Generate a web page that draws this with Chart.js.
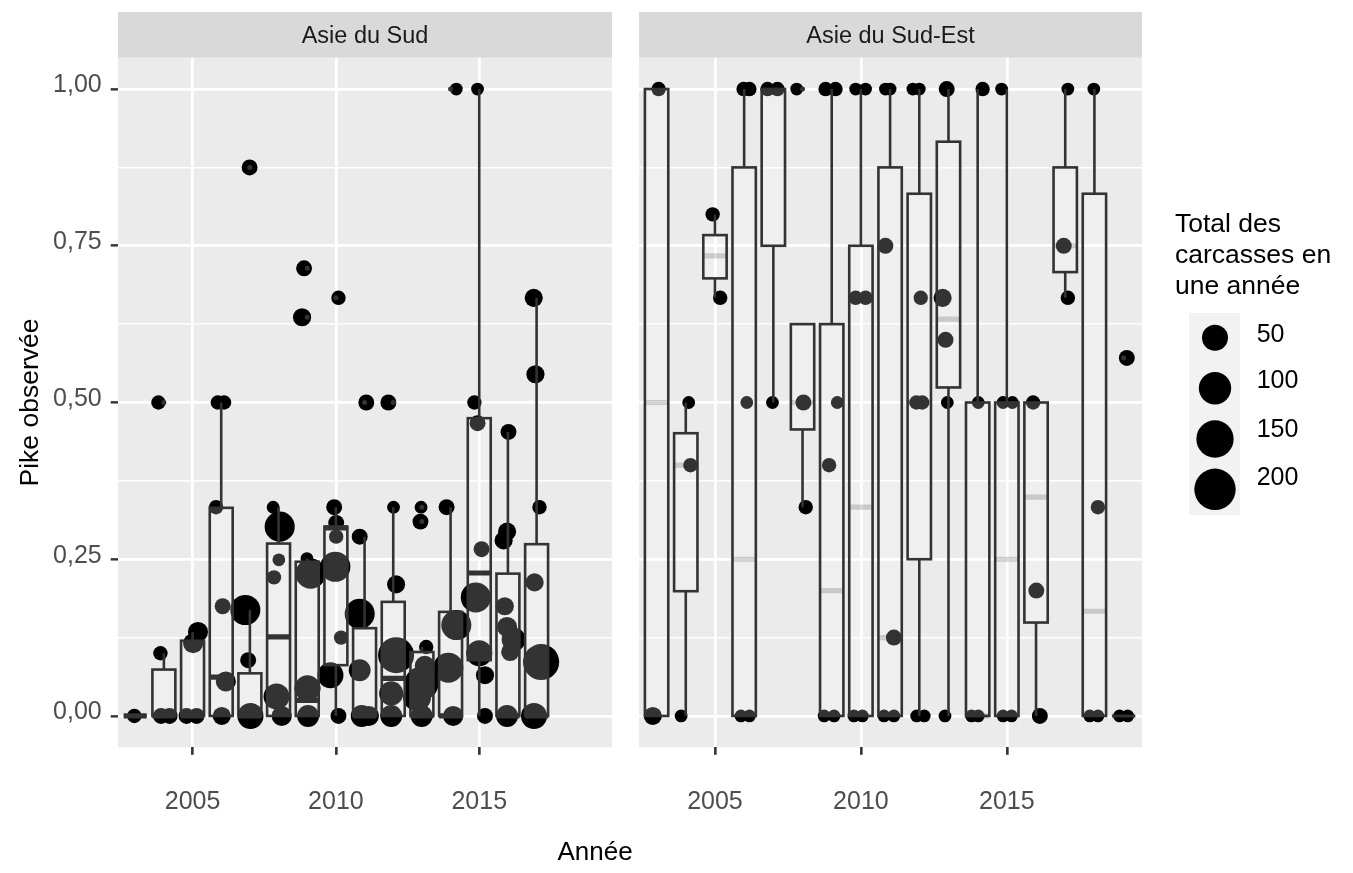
<!DOCTYPE html>
<html lang="fr">
<head>
<meta charset="utf-8">
<title>Pike observée par année</title>
<script src="https://cdn.jsdelivr.net/npm/chart.js@4.4.1/dist/chart.umd.min.js"></script>
<style>
  html, body { margin: 0; padding: 0; background: #fff; }
  #wrap { position: relative; width: 1353px; height: 873px; overflow: hidden; }
  #south, #southeast { position: absolute; top: 0; }
  #south { left: 0; }
  #southeast { left: 630px; }
  #xTitle {
    position: absolute; left: 495px; width: 200px; top: 836px;
    text-align: center; line-height: 26px; color: #000;
    font: 26px "Liberation Sans", Arial, sans-serif;
  }
</style>
</head>
<body>
<div id="wrap">
  <canvas id="south" width="630" height="873"></canvas>
  <canvas id="southeast" width="723" height="873"></canvas>
  <div id="xTitle">Année</div>
</div>
<script>
// axis ticks
const xTicks = [2005, 2010, 2015];
const yTicks = [0, 0.125, 0.25, 0.375, 0.5, 0.625, 0.75, 0.875, 1];
const sizeBreaks = [50, 100, 150, 200];

// Asie du Sud - boxplot summary per year
const southYears  = [2003, 2004, 2005, 2006, 2007, 2008, 2009, 2010, 2011, 2012, 2013, 2014, 2015, 2016, 2017];
const southQ1     = [0, 0, 0, 0, 0, 0, 0, 0.081, 0, 0, 0, 0, 0.089, 0, 0];
const southMedian = [0, 0, 0, 0.062, 0, 0.126, 0.025, 0.30, 0, 0.06, 0, 0, 0.228, 0, 0];
const southQ3     = [0, 0.074, 0.12, 0.332, 0.068, 0.275, 0.246, 0.302, 0.14, 0.182, 0.102, 0.166, 0.475, 0.227, 0.274];
const southLow    = [0, 0, 0, 0, 0, 0, 0, 0, 0, 0, 0, 0, 0, 0, 0];
const southHigh   = [0, 0.1, 0.134, 0.5, 0.169, 0.333, 0.251, 0.333, 0.286, 0.333, 0.11, 0.333, 1, 0.453, 0.667];

// Asie du Sud - jittered observations
const southPtYear = [
  2002.97,
  2003.81, 2003.88, 2003.90, 2004.20,
  2005.19, 2005.02, 2004.79, 2005.14,
  2005.88, 2006.10, 2005.82, 2006.05, 2006.16, 2006.02,
  2006.99, 2006.84, 2006.94, 2007.02,
  2007.81, 2008.04, 2008.01, 2007.84, 2007.93, 2008.11,
  2008.89, 2008.82, 2008.99, 2009.12, 2009.01, 2009.03,
  2010.09, 2009.94, 2010.01, 2010.01, 2009.98, 2010.18, 2009.81, 2010.09,
  2011.06, 2010.83, 2010.83, 2010.83, 2010.90, 2011.15,
  2011.83, 2012.01, 2012.10, 2012.10, 2011.93, 2011.93,
  2012.97, 2012.95, 2013.15, 2012.99, 2012.83, 2013.10, 2012.99,
  2014.20, 2013.86, 2014.20, 2013.92, 2014.09,
  2014.94, 2014.83, 2014.94, 2015.08, 2014.88, 2015.00, 2015.20, 2015.20,
  2016.02, 2015.97, 2015.85, 2015.89, 2015.97, 2016.20, 2016.08, 2015.97,
  2016.90, 2016.96, 2017.10, 2016.93, 2017.16, 2016.91
];
const southPtValue = [
  0,
  0.5, 0.1, 0, 0,
  0.134, 0.116, 0, 0,
  0.5, 0.5, 0.333, 0.175, 0.055, 0,
  0.875, 0.169, 0.089, 0,
  0.333, 0.302, 0.249, 0.221, 0.031, 0,
  0.714, 0.636, 0.251, 0.227, 0.044, 0,
  0.667, 0.333, 0.308, 0.286, 0.238, 0.125, 0.065, 0,
  0.5, 0.286, 0.163, 0.073, 0, 0,
  0.5, 0.333, 0.21, 0.097, 0.036, 0,
  0.333, 0.31, 0.11, 0.052, 0.03, 0.08, 0,
  1, 0.333, 0.145, 0.077, 0,
  1, 0.5, 0.467, 0.266, 0.189, 0.1, 0.065, 0,
  0.453, 0.294, 0.28, 0.175, 0.142, 0.122, 0.102, 0,
  0.667, 0.545, 0.333, 0.213, 0.086, 0
];
const southPtTotal = [
  3,
  3, 3, 6, 6,
  19, 19, 6, 6,
  3, 3, 3, 6, 19, 12,
  6, 80, 6, 50,
  1, 80, 1, 3, 50, 19,
  6, 12, 1, 80, 50, 27,
  3, 6, 6, 3, 80, 3, 50, 6,
  6, 6, 80, 27, 27, 19,
  6, 1, 12, 136, 38, 27,
  1, 6, 3, 115, 64, 19, 27,
  1, 6, 80, 80, 19,
  1, 3, 6, 6, 80, 50, 12, 6,
  6, 12, 12, 12, 19, 38, 12, 27,
  12, 12, 3, 12, 136, 50
];

// Asie du Sud-Est - boxplot summary per year
const seaYears  = [2003, 2004, 2005, 2006, 2007, 2008, 2009, 2010, 2011, 2012, 2013, 2014, 2015, 2016, 2017, 2018, 2019];
const seaQ1     = [0, 0.199, 0.698, 0, 0.75, 0.457, 0, 0, 0, 0.25, 0.524, 0, 0, 0.149, 0.708, 0, 0];
const seaMedian = [0.5, 0.4, 0.734, 0.25, 1, 0.5, 0.2, 0.333, 0.125, 0.5, 0.633, 0, 0.25, 0.349, 0.75, 0.167, 0];
const seaQ3     = [1, 0.451, 0.767, 0.875, 1, 0.625, 0.625, 0.75, 0.875, 0.833, 0.916, 0.5, 0.5, 0.5, 0.875, 0.833, 0];
const seaLow    = [0, 0, 0.667, 0, 0.5, 0.333, 0, 0, 0, 0, 0, 0, 0, 0, 0.667, 0, 0];
const seaHigh   = [1, 0.5, 0.8, 1, 1, 0.625, 1, 1, 1, 1, 1, 1, 1, 0.5, 1, 1, 0];

// Asie du Sud-Est - jittered observations
const seaPtYear = [
  2003.07, 2002.87,
  2004.10, 2003.84, 2004.16,
  2004.92, 2005.18,
  2005.98, 2006.18, 2006.09, 2005.89, 2006.18,
  2006.80, 2007.14, 2006.97,
  2007.80, 2008.03, 2008.11,
  2008.79, 2009.13, 2009.19, 2008.91, 2008.74, 2009.08,
  2009.82, 2010.16, 2009.82, 2010.16, 2009.76, 2010.05,
  2010.84, 2011.00, 2010.84, 2011.13, 2010.79, 2011.13,
  2011.78, 2012.00, 2012.05, 2011.90, 2012.10, 2011.91, 2012.17,
  2012.94, 2012.96, 2012.88, 2012.80, 2012.90,
  2014.17, 2014.02, 2013.79, 2014.02,
  2014.82, 2014.87, 2015.19, 2014.87, 2015.16,
  2015.90, 2016.01, 2016.13,
  2017.09, 2016.95, 2017.09,
  2017.98, 2018.12, 2017.84, 2018.12,
  2018.86, 2019.14, 2019.11
];
const seaPtValue = [
  1, 0,
  0.5, 0, 0.4,
  0.8, 0.667,
  1, 1, 0.5, 0, 0,
  1, 1, 0.5,
  1, 0.5, 0.333,
  1, 1, 0.5, 0.4, 0, 0,
  1, 1, 0.667, 0.667, 0, 0,
  1, 1, 0.75, 0.125, 0, 0,
  1, 1, 0.667, 0.5, 0.5, 0, 0,
  1, 0.5, 0, 0.667, 0.6,
  1, 0.5, 0, 0,
  1, 0.5, 0.5, 0, 0,
  0.5, 0.2, 0,
  1, 0.75, 0.667,
  1, 0.333, 0, 0,
  0, 0, 0.571
];
const seaPtTotal = [
  3, 12,
  1, 1, 3,
  3, 3,
  3, 3, 1, 1, 1,
  3, 3, 1,
  1, 6, 3,
  3, 3, 1, 3, 1, 1,
  1, 1, 3, 3, 1, 1,
  1, 1, 6, 6, 1, 1,
  1, 1, 3, 3, 3, 1, 1,
  6, 1, 1, 12, 6,
  3, 1, 1, 1,
  1, 1, 1, 1, 1,
  3, 6, 6,
  1, 6, 3,
  1, 3, 1, 1,
  1, 1, 6
];

Chart.defaults.font.family = '"Liberation Sans", Arial, Helvetica, sans-serif';

const X_MIN = 2002.40, X_MAX = 2019.63;
const BOX_HALF = 0.4;
const STRIP_TOP = 12;
const sizeOf = t => 5.3 + 1.089 * Math.sqrt(t);
const isMajor = v => Math.abs(v * 4 - Math.round(v * 4)) < 1e-6;

// panel background, strip, boxplots and size legend
const facetPlugin = {
  id: 'facet',
  beforeDraw(chart, args, opts) {
    const { ctx, chartArea: a } = chart;
    ctx.save();
    ctx.fillStyle = '#EBEBEB';
    ctx.fillRect(a.left, a.top, a.right - a.left, a.bottom - a.top);
    ctx.fillStyle = '#D9D9D9';
    ctx.fillRect(a.left, STRIP_TOP, a.right - a.left, a.top - STRIP_TOP);
    ctx.fillStyle = '#1A1A1A';
    ctx.font = '23.5px "Liberation Sans", Arial, sans-serif';
    ctx.textAlign = 'center';
    ctx.textBaseline = 'alphabetic';
    ctx.fillText(opts.label, (a.left + a.right) / 2, 42.7);
    ctx.restore();
  },
  afterDatasetsDraw(chart, args, opts) {
    const { ctx, chartArea: a } = chart;
    const xs = chart.scales.x, ys = chart.scales.y;
    const b = opts.boxes;
    ctx.save();
    ctx.beginPath();
    ctx.rect(a.left, a.top, a.right - a.left, a.bottom - a.top);
    ctx.clip();
    ctx.strokeStyle = '#333333';
    ctx.lineWidth = 2.6;

    b.years.forEach((yr, i) => {
      const xl = xs.getPixelForValue(yr - BOX_HALF);
      const xr = xs.getPixelForValue(yr + BOX_HALF);
      const xc = xs.getPixelForValue(yr);
      const pLo = ys.getPixelForValue(b.low[i]);
      const pQ1 = ys.getPixelForValue(b.q1[i]);
      const pMed = ys.getPixelForValue(b.median[i]);
      const pQ3 = ys.getPixelForValue(b.q3[i]);
      const pHi = ys.getPixelForValue(b.high[i]);

      ctx.beginPath();
      ctx.moveTo(xc, pQ3); ctx.lineTo(xc, pHi);
      ctx.moveTo(xc, pQ1); ctx.lineTo(xc, pLo);
      ctx.stroke();

      ctx.fillStyle = 'rgba(255,255,255,0.2)';
      ctx.fillRect(xl, pQ3, xr - xl, pQ1 - pQ3);
      ctx.strokeRect(xl, pQ3, xr - xl, pQ1 - pQ3);

      ctx.save();
      ctx.strokeStyle = opts.medianColor;
      ctx.lineWidth = 5.2;
      ctx.beginPath();
      ctx.moveTo(xl, pMed); ctx.lineTo(xr, pMed);
      ctx.stroke();
      ctx.restore();
    });

    // outliers: observations beyond the whiskers of their year
    ctx.fillStyle = '#333333';
    b.ptYear.forEach((px, k) => {
      const i = b.years.indexOf(Math.round(px));
      if (i < 0) return;
      const v = b.ptValue[k];
      if (v > b.high[i] + 1e-9 || v < b.low[i] - 1e-9) {
        ctx.beginPath();
        ctx.arc(xs.getPixelForValue(b.years[i]), ys.getPixelForValue(v), 2.5, 0, Math.PI * 2);
        ctx.fill();
      }
    });
    ctx.restore();
  },
  afterDraw(chart, args, opts) {
    if (!opts.legend) return;
    const ctx = chart.ctx;
    ctx.save();
    ctx.fillStyle = '#000';
    ctx.textAlign = 'left';
    ctx.textBaseline = 'alphabetic';
    ctx.font = '26.5px "Liberation Sans", Arial, sans-serif';
    ['Total des', 'carcasses en', 'une année'].forEach((line, i) => {
      ctx.fillText(line, 545, 231.5 + i * 31);
    });
    ctx.fillStyle = '#F2F2F2';
    ctx.fillRect(559, 313, 51, 202);
    const keyY = [337.7, 388.3, 439, 489.3];
    const labelY = [341.7, 388.3, 436.7, 485];
    ctx.font = '25px "Liberation Sans", Arial, sans-serif';
    sizeBreaks.forEach((v, i) => {
      ctx.fillStyle = '#000';
      ctx.beginPath();
      ctx.arc(585, keyY[i], sizeOf(v), 0, Math.PI * 2);
      ctx.fill();
      ctx.fillText(String(v), 626.7, labelY[i]);
    });
    ctx.restore();
  }
};

function makePanel(id, cfg) {
  const points = cfg.ptYear.map((x, i) => ({ x: x, y: cfg.ptValue[i] }));
  return new Chart(document.getElementById(id), {
    type: 'scatter',
    data: {
      datasets: [{
        data: points,
        pointRadius: ctx => sizeOf(cfg.ptTotal[ctx.dataIndex]),
        pointHoverRadius: ctx => sizeOf(cfg.ptTotal[ctx.dataIndex]),
        pointBackgroundColor: '#000000',
        pointBorderWidth: 0,
        clip: 0
      }]
    },
    options: {
      responsive: false,
      animation: false,
      devicePixelRatio: 1,
      events: [],
      layout: { padding: { top: 57.7, right: cfg.padRight, bottom: 0, left: 0 } },
      plugins: {
        legend: { display: false },
        tooltip: { enabled: false },
        facet: {
          label: cfg.label,
          medianColor: cfg.medianColor,
          legend: cfg.legend,
          boxes: {
            years: cfg.years, q1: cfg.q1, median: cfg.median, q3: cfg.q3,
            low: cfg.low, high: cfg.high, ptYear: cfg.ptYear, ptValue: cfg.ptValue
          }
        }
      },
      scales: {
        x: {
          type: 'linear',
          min: X_MIN,
          max: X_MAX,
          afterBuildTicks: s => { s.ticks = xTicks.map(v => ({ value: v })); },
          afterFit: s => { s.height = 873 - 747.3; },
          border: { display: false },
          grid: {
            color: '#FFFFFF', lineWidth: 2.7,
            tickColor: '#333333', tickLength: 7.5, tickWidth: 2.6
          },
          ticks: {
            autoSkip: false, maxRotation: 0, padding: 32.5,
            color: '#4D4D4D', font: { size: 25 },
            callback: v => String(v)
          }
        },
        y: {
          type: 'linear',
          min: -0.05,
          max: 1.05,
          afterBuildTicks: s => { s.ticks = yTicks.map(v => ({ value: v })); },
          afterFit: s => { s.width = cfg.yWidth; },
          border: { display: false },
          title: {
            display: cfg.showY, text: 'Pike observée', color: '#000',
            font: { size: 26.5 }, padding: { top: 15, bottom: 0 }
          },
          grid: {
            color: '#FFFFFF',
            lineWidth: ctx => (ctx.tick && isMajor(ctx.tick.value)) ? 2.7 : 1.4,
            drawTicks: cfg.showY,
            tickColor: ctx => (ctx.tick && isMajor(ctx.tick.value)) ? '#333333' : 'rgba(0,0,0,0)',
            tickLength: 7.3, tickWidth: 2.4
          },
          ticks: {
            display: cfg.showY, autoSkip: false, padding: 9, labelOffset: -3.5,
            color: '#4D4D4D', font: { size: 25 },
            callback: v => isMajor(v) ? v.toFixed(2).replace('.', ',') : ''
          }
        }
      }
    },
    plugins: [facetPlugin]
  });
}

makePanel('south', {
  label: 'Asie du Sud',
  years: southYears, q1: southQ1, median: southMedian, q3: southQ3,
  low: southLow, high: southHigh,
  ptYear: southPtYear, ptValue: southPtValue, ptTotal: southPtTotal,
  medianColor: '#333333',
  showY: true, yWidth: 118, padRight: 7.7, legend: false
});

makePanel('southeast', {
  label: 'Asie du Sud-Est',
  years: seaYears, q1: seaQ1, median: seaMedian, q3: seaQ3,
  low: seaLow, high: seaHigh,
  ptYear: seaPtYear, ptValue: seaPtValue, ptTotal: seaPtTotal,
  medianColor: 'rgba(51,51,51,0.2)',
  showY: false, yWidth: 8.3, padRight: 211, legend: true
});
</script>
</body>
</html>
